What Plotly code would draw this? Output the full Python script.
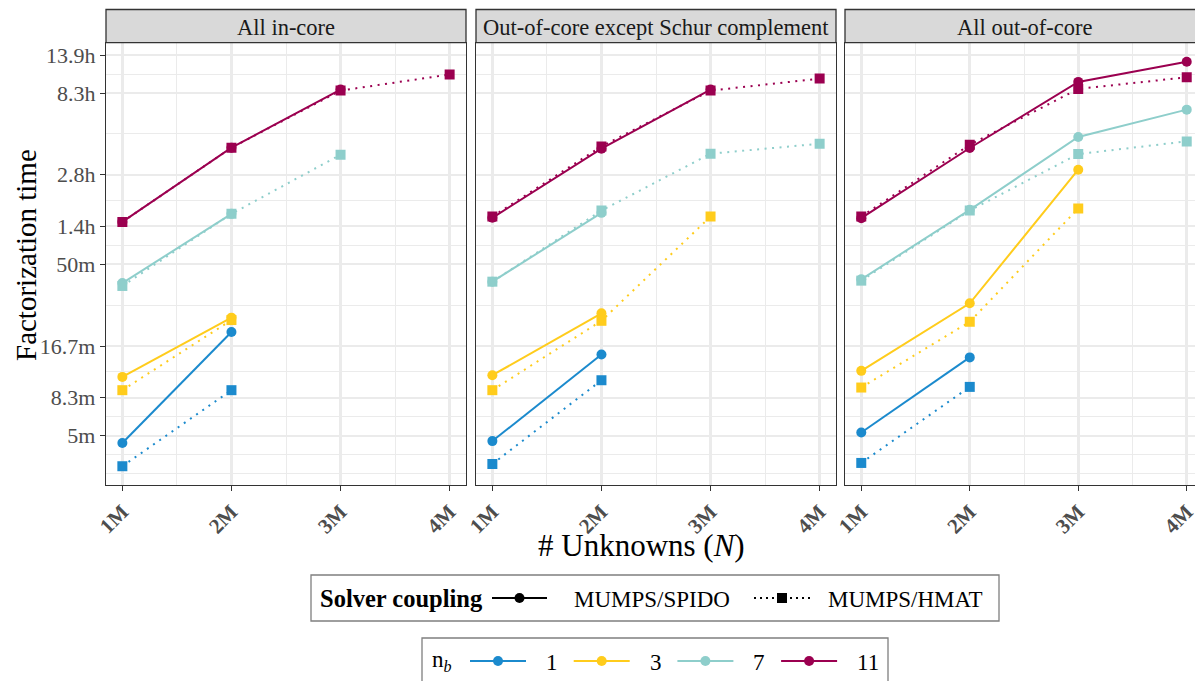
import math
import plotly.graph_objects as go

# ---------------- data (factorization time in seconds) ----------------
N_MILLIONS = [1, 2, 3, 4]
X_TICK_LABELS = ["1M", "2M", "3M", "4M"]
NB_VALUES = [1, 3, 7, 11]
NB_COLORS = {1: "#1B8ACD", 3: "#FFCC1C", 7: "#8ECECB", 11: "#9B0050"}
PANELS = ["All in-core", "Out-of-core except Schur complement", "All out-of-core"]
COUPLINGS = ["MUMPS/SPIDO", "MUMPS/HMAT"]

Y_TICK_SECONDS = [300, 500, 1000, 3000, 5000, 10000, 30000, 50000]
Y_TICK_LABELS = ["5m", "8.3m", "16.7m", "50m", "1.4h", "2.8h", "8.3h", "13.9h"]

incore_spido = {1: [272, 1208, None, None], 3: [661, 1466, None, None],
                7: [2333, 5914, None, None], 11: [5309, 14380, 31400, None]}
incore_hmat = {1: [199, 553, None, None], 3: [553, 1419, None, None],
               7: [2244, 5914, 13090, None], 11: [5309, 14380, 31000, 38470]}

oocschur_spido = {1: [279, 894, None, None], 3: [676, 1553, None, None],
                  7: [2377, 5995, None, None], 11: [5609, 14190, 31400, None]}
oocschur_hmat = {1: [205, 632, None, None], 3: [553, 1405, 5703, None],
                 7: [2377, 6180, 13270, 15180], 11: [5700, 14640, 31000, 36400]}

ooc_spido = {1: [313, 859, None, None], 3: [717, 1778, 10700, None],
             7: [2454, 6241, 16620, 23990], 11: [5582, 14330, 34830, 45620]}
ooc_hmat = {1: [208, 578, None, None], 3: [573, 1387, 6354, None],
            7: [2410, 6180, 13210, 15660], 11: [5700, 14970, 31700, 37060]}

PANEL_DATA = [(incore_spido, incore_hmat), (oocschur_spido, oocschur_hmat), (ooc_spido, ooc_hmat)]

# ---------------- layout helpers ----------------
PAGE_W, PAGE_H = 1203, 681
OFF = 8                      # the page body keeps an 8px margin around the figure
W, H = PAGE_W - OFF, PAGE_H - OFF
FONT = "Liberation Serif"
GRID = "#EBEBEB"
DARK = "#333333"
DOT = "2px,5.5px"


def px(x):
    return (x - OFF) / W


def py(y):
    return 1 - (y - OFF) / H


PANEL_X = [(106, 466), (476, 836), (845, 1204)]
PANEL_TOP, PANEL_BOTTOM, STRIP_TOP = 42.7, 485, 9.5

fig = go.Figure()

for p, (spido, hmat) in enumerate(PANEL_DATA):
    xa = "x" if p == 0 else f"x{p + 1}"
    ya = "y" if p == 0 else f"y{p + 1}"
    for data, dash, symbol in [(spido, "solid", "circle"), (hmat, DOT, "square")]:
        for nb in NB_VALUES:
            xs = [x for x, v in zip(N_MILLIONS, data[nb]) if v is not None]
            ys = [v for v in data[nb] if v is not None]
            fig.add_trace(go.Scatter(
                x=xs, y=ys, mode="lines+markers", xaxis=xa, yaxis=ya,
                line=dict(color=NB_COLORS[nb], width=2, dash=dash),
                marker=dict(symbol=symbol, size=10, color=NB_COLORS[nb]),
                showlegend=False, hoverinfo="skip"))

# y minor grid (ggplot style: midpoints in log space, extended one step)
logs = [math.log10(v) for v in Y_TICK_SECONDS]
ext = [logs[0] - (logs[1] - logs[0])] + logs + [logs[-1] + (logs[-1] - logs[-2])]
minor_logs = [ext[0], ext[-1]] + [(a + b) / 2 for a, b in zip(ext[:-1], ext[1:])]
y_minor = [10 ** v for v in minor_logs]
x_minor = [(a + b) / 2 for a, b in zip(N_MILLIONS[:-1], N_MILLIONS[1:])]

y_range = [math.log10(300) - (PANEL_BOTTOM - 435.7) / 171.3, math.log10(50000) + (55 - PANEL_TOP) / 171.3]

shapes, annotations = [], []
layout = {}
for p, (x0, x1) in enumerate(PANEL_X):
    suffix = "" if p == 0 else str(p + 1)
    layout["xaxis" + suffix] = dict(
        domain=[px(x0), min(px(x1), 1)], range=[0.85, 4.15], anchor="y" + suffix, automargin=False,
        tickmode="array", tickvals=N_MILLIONS, ticktext=X_TICK_LABELS, tickangle=-45,
        ticks="outside", ticklen=5, tickwidth=1.3, tickcolor=DARK,
        tickfont=dict(family=FONT, size=21, color="#4D4D4D", weight="bold"),
        showgrid=True, gridcolor=GRID, gridwidth=3, zeroline=False,
        showline=True, mirror=True, linecolor=DARK, linewidth=1.3,
        minor=dict(tickvals=x_minor, showgrid=True, gridcolor=GRID, gridwidth=1.2, ticks=""),
    )
    yax = dict(
        domain=[py(PANEL_BOTTOM), py(PANEL_TOP)], type="log", range=y_range, anchor="x" + suffix,
        automargin=False, tickmode="array", tickvals=Y_TICK_SECONDS, ticktext=Y_TICK_LABELS,
        showgrid=True, gridcolor=GRID, gridwidth=2, zeroline=False,
        showline=True, mirror=True, linecolor=DARK, linewidth=1.3,
        minor=dict(tickvals=y_minor, showgrid=True, gridcolor=GRID, gridwidth=1.2, ticks=""),
    )
    if p == 0:
        yax.update(ticks="outside", ticklen=5, tickwidth=1.3, tickcolor=DARK,
                   tickfont=dict(family=FONT, size=22, color="#4D4D4D"))
    else:
        yax.update(matches="y", showticklabels=False, ticks="")
    layout["yaxis" + suffix] = yax

    shapes.append(dict(type="rect", xref="paper", yref="paper", x0=px(x0), x1=px(x1),
                       y0=py(PANEL_TOP), y1=py(STRIP_TOP), fillcolor="#D9D9D9",
                       line=dict(color=DARK, width=1.3), layer="above"))
    annotations.append(dict(text=PANELS[p], xref="paper", yref="paper", x=px((x0 + x1) / 2),
                            y=py((PANEL_TOP + STRIP_TOP) / 2 + 1), showarrow=False,
                            font=dict(family=FONT, size=22.5, color="#1A1A1A"),
                            xanchor="center", yanchor="middle"))

annotations.append(dict(text="Factorization time", xref="paper", yref="paper", x=px(26),
                        y=py(255), textangle=-90, showarrow=False, borderpad=0,
                        font=dict(family=FONT, size=29, color="black"),
                        xanchor="center", yanchor="middle"))
annotations.append(dict(text="# Unknowns (<i>N</i>)", xref="paper", yref="paper",
                        x=px(641), y=py(545), showarrow=False,
                        font=dict(family=FONT, size=31, color="black"),
                        xanchor="center", yanchor="middle"))

# ---------------- legends (drawn as boxes, keys and text) ----------------
LEG_BORDER = "#7F7F7F"


def legend_key(x0, x1, yc, color, dash, symbol):
    shapes.append(dict(type="line", xref="paper", yref="paper", x0=px(x0), x1=px(x1),
                       y0=py(yc), y1=py(yc), line=dict(color=color, width=2, dash=dash)))
    cx, r = (x0 + x1) / 2, 5
    shapes.append(dict(type="circle" if symbol == "circle" else "rect", xref="paper", yref="paper",
                       x0=px(cx - r), x1=px(cx + r), y0=py(yc + r), y1=py(yc - r),
                       fillcolor=color, line=dict(color=color, width=0)))


def legend_text(text, x, yc, size=23, bold=False):
    annotations.append(dict(text=f"<b>{text}</b>" if bold else text, xref="paper", yref="paper",
                            x=px(x), y=py(yc), showarrow=False, xanchor="left", yanchor="middle",
                            font=dict(family=FONT, size=size, color="black")))


# legend 1: solver coupling
shapes.append(dict(type="rect", xref="paper", yref="paper", x0=px(311), x1=px(999),
                   y0=py(621), y1=py(575), fillcolor="white", line=dict(color=LEG_BORDER, width=1.3)))
legend_text("Solver coupling", 318, 598, size=24.5, bold=True)
for (kx0, kx1, tx), coupling, dash, symbol in zip([(492, 547, 572), (754, 810, 826)], COUPLINGS,
                                                  ["solid", "2px,4px"], ["circle", "square"]):
    legend_key(kx0, kx1, 598, "black", dash, symbol)
    legend_text(coupling, tx, 599)

# legend 2: n_b
shapes.append(dict(type="rect", xref="paper", yref="paper", x0=px(422), x1=px(888),
                   y0=py(686), y1=py(638), fillcolor="white", line=dict(color=LEG_BORDER, width=1.3)))
legend_text("n<sub><i>b</i></sub>", 430, 661)
for i, nb in enumerate(NB_VALUES):
    kx0 = 470 + i * 103.7
    legend_key(kx0, kx0 + 56, 661, NB_COLORS[nb], "solid", "circle")
    legend_text(str(nb), kx0 + 74, 662)

fig.update_layout(width=W, height=H, margin=dict(l=0, r=0, t=0, b=0, autoexpand=False),
                  paper_bgcolor="white", plot_bgcolor="white", showlegend=False,
                  shapes=shapes, annotations=annotations, **layout)

fig.write_html("out.html")
